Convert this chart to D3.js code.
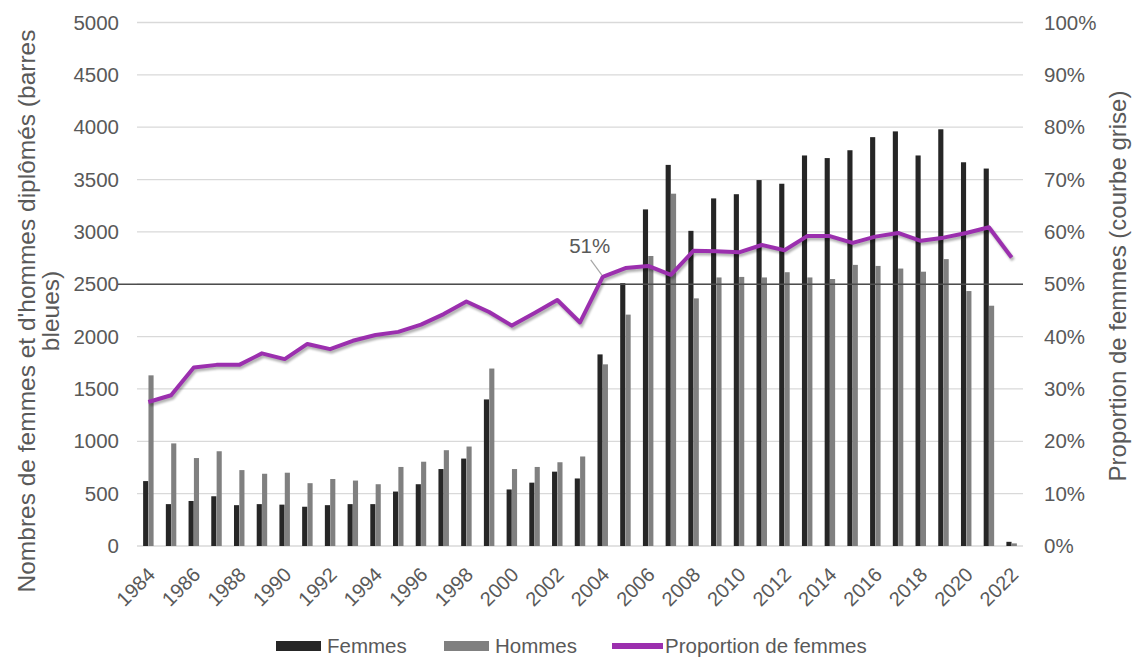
<!DOCTYPE html>
<html>
<head>
<meta charset="utf-8">
<script src="https://cdn.jsdelivr.net/npm/d3@7"></script>
<style>
  body { margin: 0; background: #fff; }
  text { font-family: "Liberation Sans", Arial, sans-serif; }
</style>
</head>
<body>
<div id="chart"></div>
<script>
const years = [1984, 1985, 1986, 1987, 1988, 1989, 1990, 1991, 1992, 1993,
  1994, 1995, 1996, 1997, 1998, 1999, 2000, 2001, 2002, 2003,
  2004, 2005, 2006, 2007, 2008, 2009, 2010, 2011, 2012, 2013,
  2014, 2015, 2016, 2017, 2018, 2019, 2020, 2021, 2022]

// nombres de diplomés
const femmes = [620, 400, 430, 475, 390, 400, 395, 375, 390, 400,
  400, 520, 590, 735, 835, 1400, 540, 605, 710, 645,
  1830, 2510, 3215, 3640, 3010, 3320, 3360, 3495, 3460, 3730,
  3705, 3780, 3905, 3960, 3730, 3980, 3665, 3605, 40]
const hommes = [1630, 980, 840, 905, 725, 690, 700, 600, 640, 625,
  590, 755, 805, 915, 950, 1695, 735, 755, 800, 855,
  1735, 2210, 2770, 3365, 2365, 2565, 2570, 2565, 2615, 2565,
  2550, 2685, 2675, 2650, 2620, 2740, 2435, 2295, 25]
// proportion de femmes en %
const proportion = [27.5, 28.8, 34.1, 34.6, 34.6, 36.8, 35.7, 38.6, 37.6, 39.2,
  40.3, 40.9, 42.3, 44.3, 46.7, 44.7, 42.1, 44.5, 47.0, 42.7,
  51.4, 53.1, 53.5, 51.8, 56.4, 56.3, 56.1, 57.5, 56.5, 59.2,
  59.2, 57.9, 59.1, 59.8, 58.3, 58.9, 59.8, 60.9, 55.1]

const leftTicks = [0, 500, 1000, 1500, 2000, 2500, 3000, 3500, 4000, 4500, 5000]
const rightTicks = [0, 10, 20, 30, 40, 50, 60, 70, 80, 90, 100]
const labelYears = [1984, 1986, 1988, 1990, 1992, 1994, 1996, 1998, 2000, 2002,
  2004, 2006, 2008, 2010, 2012, 2014, 2016, 2018, 2020, 2022]
const seriesNames = ["Femmes", "Hommes", "Proportion de femmes"]
const annotation = { year: 2004, text: "51%" }

const width = 1133
const height = 657
const plotLeft = 137, plotRight = 1023, plotTop = 22.5, plotBottom = 546

const textColor = "#595959"
const colors = { Femmes: "#262626", Hommes: "#808080", line: "#9b2fae" }

const svg = d3.select("#chart")
  .append("svg")
  .attr("width", width)
  .attr("height", height)

const x = d3.scaleBand()
  .domain(years)
  .range([plotLeft, plotRight])
  .paddingInner(0.52)
  .paddingOuter(0.26)

const xSub = d3.scaleBand()
  .domain(["Femmes", "Hommes"])
  .range([0, x.bandwidth()])
  .padding(0.04)

const y = d3.scaleLinear().domain([0, 5000]).range([plotBottom, plotTop])
const yRight = d3.scaleLinear().domain([0, 100]).range([plotBottom, plotTop])

// grid lines
svg.append("g")
  .selectAll("line")
  .data(leftTicks)
  .join("line")
  .attr("x1", plotLeft)
  .attr("x2", plotRight)
  .attr("y1", d => y(d))
  .attr("y2", d => y(d))
  .attr("stroke", "#d9d9d9")
  .attr("stroke-width", 1.3)

// left axis
const leftAxis = svg.append("g")
  .attr("transform", `translate(${plotLeft - 18},0)`)
  .call(d3.axisLeft(y).tickValues(leftTicks).tickSize(0).tickPadding(0)
    .tickFormat(d3.format("d")))
leftAxis.select(".domain").remove()
leftAxis.selectAll("text")
  .attr("fill", textColor)
  .style("font-size", "20.5px")
  .style("font-family", "Liberation Sans, Arial, sans-serif")

// right axis
const rightAxis = svg.append("g")
  .attr("transform", `translate(${plotRight + 21},0)`)
  .call(d3.axisRight(yRight).tickValues(rightTicks).tickSize(0).tickPadding(0)
    .tickFormat(d => d + "%"))
rightAxis.select(".domain").remove()
rightAxis.selectAll("text")
  .attr("fill", textColor)
  .style("font-size", "20.5px")
  .style("font-family", "Liberation Sans, Arial, sans-serif")

// x axis labels, every second year
const xAxis = svg.append("g")
  .attr("transform", `translate(0,${plotBottom})`)
  .call(d3.axisBottom(x).tickValues(labelYears).tickSize(0).tickPadding(0))
xAxis.select(".domain").remove()
xAxis.selectAll("text")
  .attr("fill", textColor)
  .style("font-size", "20px")
  .style("font-family", "Liberation Sans, Arial, sans-serif")
  .attr("text-anchor", "end")
  .attr("dy", "0.35em")
  .attr("transform", "translate(3,25) rotate(-45)")

// bars
const groups = svg.append("g")
  .selectAll("g")
  .data(years)
  .join("g")
  .attr("transform", d => `translate(${x(d)},0)`)

groups.selectAll("rect")
  .data((d, i) => [
    { key: "Femmes", value: femmes[i] },
    { key: "Hommes", value: hommes[i] }
  ])
  .join("rect")
  .attr("x", d => xSub(d.key))
  .attr("width", xSub.bandwidth())
  .attr("y", d => y(d.value))
  .attr("height", d => y(0) - y(d.value))
  .attr("fill", d => colors[d.key])

// 50% line
svg.append("line")
  .attr("x1", plotLeft - 19)
  .attr("x2", plotRight)
  .attr("y1", yRight(50))
  .attr("y2", yRight(50))
  .attr("stroke", "#4d4d4d")
  .attr("stroke-width", 1.4)

// proportion line with its grey shadow
const line = d3.line()
  .x((d, i) => x(years[i]) + x.bandwidth() / 2)
  .y(d => yRight(d))

const defs = svg.append("defs")
defs.append("filter")
  .attr("id", "blur")
  .append("feGaussianBlur")
  .attr("stdDeviation", 1.2)

svg.append("path")
  .datum(proportion)
  .attr("d", line)
  .attr("fill", "none")
  .attr("stroke", "#000")
  .attr("stroke-opacity", 0.3)
  .attr("stroke-width", 4)
  .attr("filter", "url(#blur)")
  .attr("transform", "translate(1.5,2.5)")

svg.append("path")
  .datum(proportion)
  .attr("d", line)
  .attr("fill", "none")
  .attr("stroke", colors.line)
  .attr("stroke-width", 4)
  .attr("stroke-linejoin", "round")

// annotation 51%
const ai = years.indexOf(annotation.year)
const ax = x(annotation.year) + x.bandwidth() / 2
const ay = yRight(proportion[ai])
svg.append("line")
  .attr("x1", ax - 12)
  .attr("y1", ay - 17)
  .attr("x2", ax - 1)
  .attr("y2", ay - 2)
  .attr("stroke", "#a6a6a6")
  .attr("stroke-width", 1.2)
svg.append("text")
  .attr("x", ax - 13)
  .attr("y", ay - 24)
  .attr("text-anchor", "middle")
  .attr("fill", textColor)
  .style("font-size", "20.5px")
  .text(annotation.text)

// axis titles
const leftTitle = svg.append("text")
  .attr("transform", "translate(35,311) rotate(-90)")
  .attr("text-anchor", "middle")
  .attr("fill", textColor)
  .style("font-size", "24.5px")
leftTitle.append("tspan")
  .attr("x", 0)
  .attr("y", 0)
  .text("Nombres de femmes et d'hommes diplômés (barres")
leftTitle.append("tspan")
  .attr("x", 0)
  .attr("y", 24)
  .text("bleues)")

svg.append("text")
  .attr("transform", "translate(1126,286) rotate(-90)")
  .attr("text-anchor", "middle")
  .attr("fill", textColor)
  .style("font-size", "24px")
  .text("Proportion de femmes (courbe grise)")

// legend
const legend = svg.append("g").attr("transform", "translate(0,646)")
const legendX = [276, 444, 612]
seriesNames.forEach((name, i) => {
  const g = legend.append("g").attr("transform", `translate(${legendX[i]},0)`)
  if (i < 2) {
    g.append("rect")
      .attr("x", 0)
      .attr("y", -5)
      .attr("width", 45)
      .attr("height", 10)
      .attr("fill", colors[name])
  } else {
    g.append("line")
      .attr("x1", 0)
      .attr("x2", 51)
      .attr("y1", 0)
      .attr("y2", 0)
      .attr("stroke", colors.line)
      .attr("stroke-width", 6)
  }
  g.append("text")
    .attr("x", i < 2 ? 51 : 53)
    .attr("y", 0)
    .attr("dy", "0.35em")
    .attr("fill", textColor)
    .style("font-size", "20.5px")
    .text(name)
})
</script>
</body>
</html>
